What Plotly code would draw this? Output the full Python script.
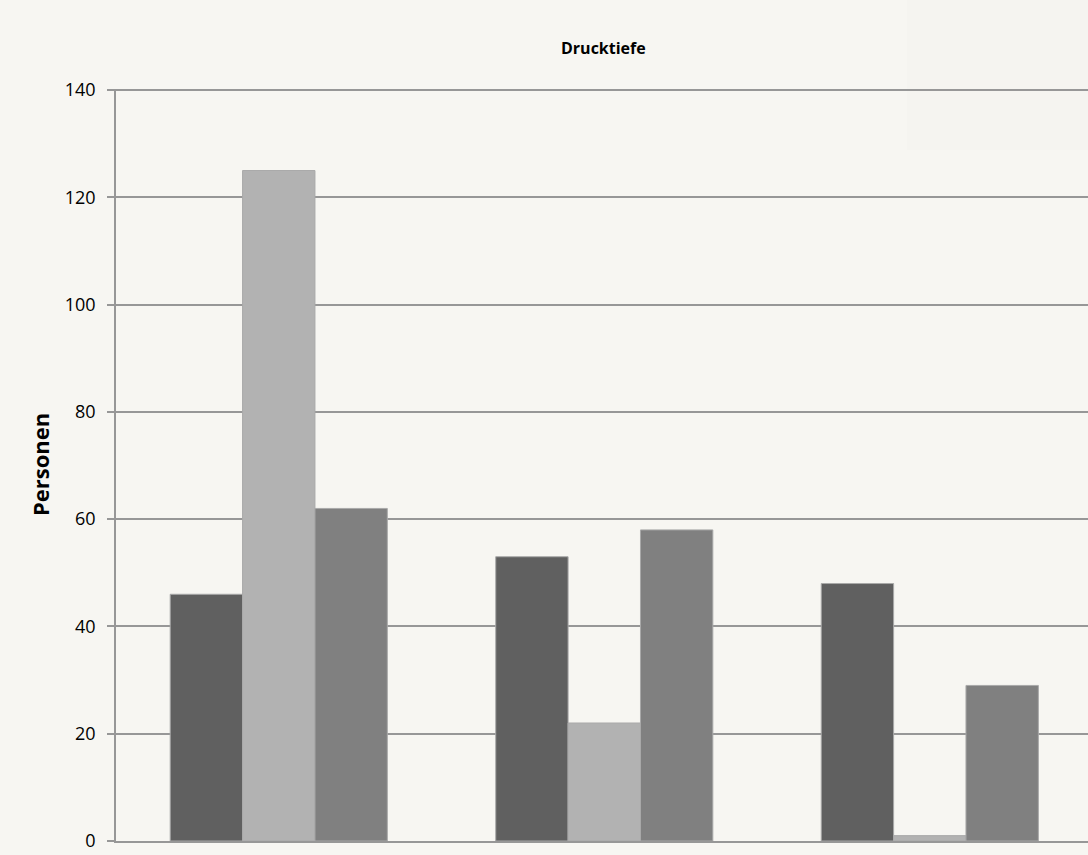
import plotly.graph_objects as go

# Three groups, three series each (Personen)
categories = ["Gruppe 1", "Gruppe 2", "Gruppe 3"]
series_a = [46, 53, 48]
series_b = [125, 22, 1]
series_c = [62, 58, 29]

bg = "#f7f6f2"
grid = "#979797"
font = "Open Sans, sans-serif"

fig = go.Figure()
for vals, col in [(series_a, "#606060"), (series_b, "#b2b2b2"), (series_c, "#808080")]:
    fig.add_trace(go.Bar(
        x=categories, y=vals, marker=dict(color=col, line=dict(color="#a9a9a9", width=1)),
        showlegend=False,
    ))

fig.update_layout(
    width=1088, height=855,
    margin=dict(l=116, r=0, t=89, b=14),
    paper_bgcolor=bg, plot_bgcolor=bg,
    barmode="group", bargap=0.333, bargroupgap=0,
    font=dict(family=font, size=16, color="#000000"),
    xaxis=dict(range=[-0.5, 2.486], showticklabels=False, showgrid=False, ticks="",
               showline=True, linecolor=grid, linewidth=1.5, zeroline=False),
    yaxis=dict(range=[0, 140.2], dtick=20, showgrid=True, gridcolor=grid, gridwidth=1.5,
               showline=True, linecolor=grid, linewidth=1.5, ticks="outside", ticklen=7,
               tickcolor=grid, tickwidth=1.5, zeroline=False, ticklabelstandoff=8,
               tickfont=dict(family=font, size=18)),
    shapes=[dict(type="rect", xref="paper", yref="paper", layer="below",
                 x0=(907 - 116) / 972, x1=1.0, y0=(841 - 150) / 752, y1=841 / 752,
                 fillcolor="#f5f4f0", line=dict(width=0))],
    annotations=[
        dict(text="<b>Drucktiefe</b>", xref="paper", yref="paper", x=0.502, y=(841 - 48) / 752,
             xanchor="center", yanchor="middle", showarrow=False, font=dict(family=font, size=16)),
        dict(text="<b>Personen</b>", xref="paper", yref="paper", x=(40 - 116) / 972, y=(841 - 465) / 752,
             xanchor="center", yanchor="middle", textangle=-90, showarrow=False,
             font=dict(family=font, size=22)),
    ],
)

fig.write_html("out.html")
